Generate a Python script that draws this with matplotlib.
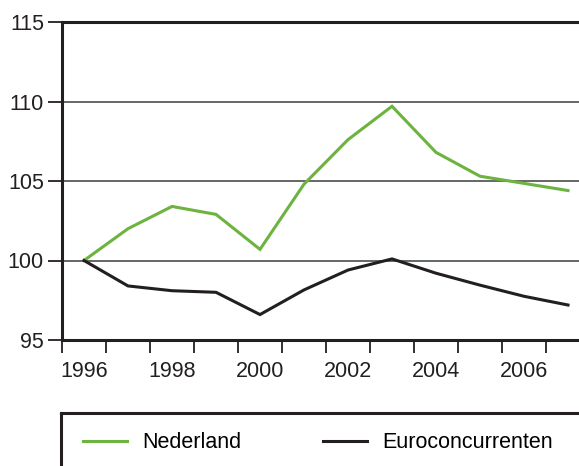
import matplotlib
matplotlib.use("Agg")
import matplotlib.pyplot as plt

years = [1996, 1997, 1998, 1999, 2000, 2001, 2002, 2003, 2004, 2005, 2006, 2007]
nederland = [100.0, 102.0, 103.4, 102.9, 100.7, 104.8, 107.6, 109.7, 106.8, 105.3, 104.85, 104.4]
euro = [100.0, 98.4, 98.1, 98.0, 96.6, 98.15, 99.4, 100.1, 99.2, 98.45, 97.75, 97.2]
xtick_labels = ["1996", "1998", "2000", "2002", "2004", "2006"]
yticks = [95, 100, 105, 110, 115]
series_names = ["Nederland", "Euroconcurrenten"]

GREEN = "#6cb33f"
BLACK = "#231f20"
plt.rcParams["font.family"] = ["Liberation Sans", "DejaVu Sans"]
FS = 15.5

W, H = 579, 466
fig = plt.figure(figsize=(W / 100, H / 100), dpi=100)

left_px, top_px, bottom_px = 62, 22, 340
xmin = 1995.5
px_per_year = 44.0
xmax = xmin + (W + 40 - left_px) / px_per_year
ax = fig.add_axes([left_px / W, (H - bottom_px) / H,
                   (xmax - xmin) * px_per_year / W, (bottom_px - top_px) / H])
ax.set_xlim(xmin, xmax)
ax.set_ylim(95, 115)

for y in [100, 105, 110]:
    ax.axhline(y, color="#4d4d4d", lw=1.2, zorder=1)

l1, = ax.plot(years, nederland, color=GREEN, lw=2.2, zorder=3, solid_joinstyle="miter")
l2, = ax.plot(years, euro, color=BLACK, lw=2.2, zorder=3, solid_joinstyle="miter")

ax.spines["right"].set_visible(False)
for s in ["left", "top", "bottom"]:
    ax.spines[s].set_linewidth(2.2)
    ax.spines[s].set_color(BLACK)

ax.set_yticks(yticks)
ax.set_yticklabels([str(v) for v in yticks], fontsize=FS)
ax.tick_params(axis="y", length=10, width=1.3, color=BLACK, pad=3, labelcolor=BLACK)

tick_pos = [y - 0.5 for y in years] + [years[-1] + 0.5]
ax.set_xticks(tick_pos)
ax.set_xticklabels([])
ax.tick_params(axis="x", which="major", length=9, width=1.3, color=BLACK)
label_years = [int(t) for t in xtick_labels]
ax.set_xticks(label_years, minor=True)
ax.set_xticklabels(xtick_labels, minor=True, fontsize=FS, color=BLACK)
ax.tick_params(axis="x", which="minor", length=0, pad=15)

# legend box
lax = fig.add_axes([61 / W, -0.1, 1.0, (H - 413) / H + 0.1])
lax.set_xticks([]); lax.set_yticks([])
lax.patch.set_alpha(0)
for s in ["right", "bottom"]:
    lax.spines[s].set_visible(False)
for s in ["left", "top"]:
    lax.spines[s].set_linewidth(2.2)
    lax.spines[s].set_color(BLACK)

fig.legend([l1, l2], series_names, loc="center left",
           bbox_to_anchor=(83 / W, (H - 443) / H), ncol=2, frameon=False,
           fontsize=FS, handlelength=2.05, handletextpad=0.7, columnspacing=3.8,
           borderpad=0, borderaxespad=0)

fig.savefig("out.png", dpi=100)
